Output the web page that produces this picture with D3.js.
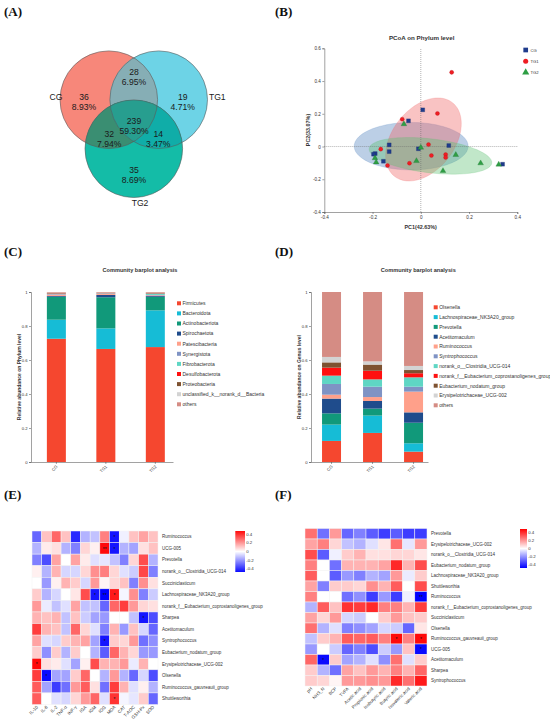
<!DOCTYPE html>
<html>
<head>
<meta charset="utf-8">
<script src="https://cdn.jsdelivr.net/npm/d3@7"></script>
<style>
html,body{margin:0;padding:0;background:#fff;}
svg{display:block;}
text{font-family:"Liberation Sans",Arial,Helvetica,sans-serif;fill:#222;}
.plab{font-family:"Liberation Serif","Times New Roman",serif;font-weight:bold;font-size:13px;fill:#111;}
</style>
</head>
<body>
<svg id="fig" width="550" height="724"></svg>
<script>
// ======================= DATA =======================
// (A) Venn diagram
const vennSets = ["CG", "TG1", "TG2"];
const vennRegions = ["CG", "CG∩TG1", "TG1", "CG∩TG1∩TG2", "CG∩TG2", "TG1∩TG2", "TG2"];
const vennCounts = [36, 28, 19, 239, 32, 14, 35];
const vennPercents = [8.93, 6.95, 4.71, 59.30, 7.94, 3.47, 8.69];

// (B) PCoA on phylum level
const pcoaGroups = ["CG", "TG1", "TG2"];
const pc1CG = [0.008, -0.051, -0.131, -0.131, -0.189, -0.196, -0.155, -0.010, 0.116, 0.339];
const pc2CG = [0.224, 0.157, 0.010, -0.031, -0.043, -0.047, -0.090, -0.014, 0.006, -0.108];
const pc1TG1 = [0.128, 0.069, -0.077, -0.166, 0.032, 0.044, 0.103, 0.103, -0.047, -0.138];
const pc2TG1 = [0.453, 0.202, 0.167, -0.016, 0.012, -0.055, -0.049, -0.067, -0.102, -0.116];
const pc1TG2 = [-0.070, 0.000, -0.190, -0.185, -0.018, 0.092, 0.145, 0.248, 0.323];
const pc2TG2 = [0.137, -0.006, -0.071, -0.096, -0.088, -0.149, -0.051, -0.102, -0.110];
const ellipseCenterPC1 = [-0.040, 0.011, 0.040];
const ellipseCenterPC2 = [0.002, 0.043, -0.057];
const ellipseAxis1 = [[0.236, 0.000], [0.120, 0.225], [0.254, -0.044]];
const ellipseAxis2 = [[0.000, 0.145], [0.101, -0.117], [-0.008, -0.103]];
const pcoaTicksX = [-0.4, -0.2, 0, 0.2, 0.4];
const pcoaTicksY = [-0.4, -0.2, 0, 0.2, 0.4, 0.6];
const pc1Label = "PC1(42.63%)";
const pc2Label = "PC2(33.07%)";

// (C) Community barplot, phylum level
const barGroups = ["CG", "TG1", "TG2"];
const phyla = ["Firmicutes", "Bacteroidota", "Actinobacteriota", "Spirochaetota", "Patescibacteria",
  "Synergistota", "Fibrobacterota", "Desulfobacterota", "Proteobacteria",
  "unclassified_k__norank_d__Bacteria", "others"];
const phylumCG  = [0.725, 0.112, 0.135, 0.005, 0.008, 0.003, 0.002, 0.002, 0.002, 0.002, 0.004];
const phylumTG1 = [0.665, 0.121, 0.183, 0.014, 0.006, 0.002, 0.002, 0.001, 0.001, 0.001, 0.004];
const phylumTG2 = [0.676, 0.216, 0.079, 0.005, 0.004, 0.003, 0.008, 0.002, 0.002, 0.001, 0.004];

// (D) Community barplot, genus level
const genera = ["Olsenella", "Lachnospiraceae_NK3A20_group", "Prevotella", "Acetitomaculum",
  "Ruminococcus", "Syntrophococcus", "norank_o__Clostridia_UCG-014",
  "norank_f__Eubacterium_coprostanoligenes_group", "Eubacterium_nodatum_group",
  "Erysipelotrichaceae_UCG-002", "others"];
const genusCG  = [0.124, 0.096, 0.066, 0.087, 0.023, 0.063, 0.049, 0.047, 0.031, 0.032, 0.382];
const genusTG1 = [0.171, 0.102, 0.041, 0.045, 0.023, 0.061, 0.043, 0.051, 0.036, 0.019, 0.408];
const genusTG2 = [0.061, 0.049, 0.121, 0.061, 0.122, 0.029, 0.055, 0.024, 0.019, 0.024, 0.435];
const abundanceTicks = [0, 0.2, 0.4, 0.6, 0.8, 1];

// (E) correlation heatmap: genera vs immune / antioxidant indices
const indicesE = ["IL-10", "IL-6", "IL-2", "TNF-α", "INF-γ", "IGA", "IGM", "IGG", "MDA", "CAT", "T-AOC", "GSH-Px", "SOD"];
const taxaE = ["Ruminococcus", "UCG-005", "Prevotella", "norank_o__Clostridia_UCG-014", "Succiniclasticum",
  "Lachnospiraceae_NK3A20_group", "norank_f__Eubacterium_coprostanoligenes_group", "Sharpea",
  "Acetitomaculum", "Syntrophococcus", "Eubacterium_nodatum_group", "Erysipelotrichaceae_UCG-002",
  "Olsenella", "Ruminococcus_gauvreauii_group", "Shuttleworthia"];
const corrE = [
  [-0.30, 0.12, 0.30, 0.12, -0.42, -0.15, -0.12, 0.25, -0.46, -0.03, 0.12, 0.18, 0.12],
  [-0.15, 0.04, 0.06, -0.15, -0.25, 0.08, 0.03, 0.48, -0.46, -0.15, -0.18, 0.06, 0.12],
  [-0.25, -0.35, 0.18, 0.00, 0.18, 0.04, -0.06, -0.05, -0.12, -0.25, 0.08, 0.35, -0.15],
  [0.03, -0.15, 0.15, -0.08, -0.08, 0.08, 0.22, 0.25, 0.08, -0.06, -0.10, 0.36, -0.25],
  [0.00, -0.20, 0.03, 0.15, 0.10, -0.08, 0.20, 0.02, 0.08, 0.12, -0.25, 0.22, 0.06],
  [0.10, -0.15, -0.08, 0.00, 0.05, 0.35, -0.46, -0.50, 0.45, -0.02, 0.22, -0.25, -0.10],
  [0.20, -0.04, -0.12, -0.06, 0.18, -0.12, -0.12, -0.30, 0.30, 0.38, 0.20, 0.08, 0.06],
  [0.15, 0.12, 0.15, -0.12, 0.12, -0.10, -0.18, -0.20, 0.00, 0.00, -0.12, -0.46, -0.35],
  [0.38, 0.15, 0.12, -0.12, 0.30, 0.08, -0.06, -0.25, 0.15, -0.20, 0.12, -0.08, -0.30],
  [0.18, -0.06, -0.08, 0.10, 0.15, 0.18, -0.18, -0.46, 0.10, 0.08, 0.20, -0.28, -0.22],
  [0.10, -0.22, 0.10, -0.15, 0.10, 0.00, -0.15, -0.32, 0.30, 0.15, 0.08, -0.20, -0.20],
  [0.48, 0.06, 0.04, -0.06, -0.18, 0.03, 0.35, 0.15, 0.15, 0.20, -0.04, 0.15, 0.00],
  [0.38, -0.48, -0.18, -0.18, 0.10, 0.30, 0.00, -0.15, 0.20, -0.15, -0.30, -0.08, -0.35],
  [0.32, -0.18, -0.38, -0.28, 0.20, 0.32, 0.06, -0.28, 0.38, 0.15, -0.06, 0.03, -0.15],
  [0.32, 0.00, -0.06, -0.08, 0.08, 0.20, 0.30, -0.06, 0.40, -0.02, -0.05, 0.10, -0.30]
];
const sigE = [
  ["Ruminococcus", "MDA", "*"], ["UCG-005", "IGG", "**"], ["UCG-005", "MDA", "*"],
  ["Lachnospiraceae_NK3A20_group", "IGM", "*"], ["Lachnospiraceae_NK3A20_group", "IGG", "**"],
  ["Lachnospiraceae_NK3A20_group", "MDA", "*"], ["Sharpea", "GSH-Px", "*"],
  ["Syntrophococcus", "IGG", "*"], ["Erysipelotrichaceae_UCG-002", "IL-10", "*"],
  ["Olsenella", "IL-6", "*"], ["Shuttleworthia", "MDA", "*"]
];

// (F) correlation heatmap: genera vs rumen fermentation parameters
const indicesF = ["pH", "NH3_N", "BCP", "TVFA", "Acetic acid", "Propionic acid", "Isobutyric acid",
  "Butyric acid", "Isovaleric acid", "Valeric acid"];
const taxaF = ["Prevotella", "Erysipelotrichaceae_UCG-002", "norank_o__Clostridia_UCG-014",
  "Eubacterium_nodatum_group", "Lachnospiraceae_NK3A20_group", "Shuttleworthia", "Ruminococcus",
  "norank_f__Eubacterium_coprostanoligenes_group", "Succiniclasticum", "Olsenella",
  "Ruminococcus_gauvreauii_group", "UCG-005", "Acetitomaculum", "Sharpea", "Syntrophococcus"];
const corrF = [
  [0.28, -0.28, 0.20, -0.30, -0.25, -0.32, -0.38, -0.32, -0.38, -0.38],
  [0.18, 0.25, 0.08, -0.12, -0.15, -0.06, 0.05, 0.28, -0.05, 0.20],
  [0.35, -0.32, -0.03, 0.10, 0.15, 0.06, 0.06, 0.08, 0.08, 0.05],
  [0.25, 0.00, -0.28, 0.15, 0.15, 0.15, 0.18, 0.42, 0.15, 0.35],
  [0.32, 0.00, -0.32, -0.20, -0.25, -0.15, -0.18, 0.20, -0.04, 0.10],
  [0.18, -0.25, 0.10, 0.10, 0.08, 0.22, 0.15, 0.32, 0.00, 0.35],
  [0.25, 0.00, 0.00, -0.28, -0.22, -0.38, -0.20, -0.38, -0.03, -0.50],
  [-0.15, 0.32, 0.12, 0.40, 0.38, 0.42, 0.25, 0.25, 0.15, 0.38],
  [0.18, 0.08, 0.20, -0.08, -0.10, 0.00, 0.10, 0.20, 0.12, 0.10],
  [0.28, -0.15, -0.06, -0.25, -0.22, -0.18, -0.08, -0.10, -0.30, 0.05],
  [-0.12, 0.10, 0.15, 0.32, 0.30, 0.32, 0.25, 0.48, 0.25, 0.48],
  [-0.20, 0.00, -0.10, -0.30, -0.25, -0.35, -0.10, -0.20, 0.12, -0.48],
  [0.30, -0.48, 0.10, -0.18, -0.15, -0.06, -0.22, 0.28, -0.06, 0.10],
  [0.10, -0.15, -0.28, 0.18, 0.12, 0.20, 0.15, 0.25, 0.15, 0.30],
  [0.10, 0.08, 0.02, 0.20, 0.20, 0.22, 0.20, 0.42, 0.28, 0.45]
];
const sigF = [
  ["Ruminococcus", "Valeric acid", "**"], ["Ruminococcus_gauvreauii_group", "Butyric acid", "*"],
  ["Ruminococcus_gauvreauii_group", "Valeric acid", "*"], ["UCG-005", "Valeric acid", "*"],
  ["Acetitomaculum", "NH3_N", "*"]
];
const corrTicks = [0.4, 0.2, 0, -0.2, -0.4];

// ======================= DRAWING =======================
const svg = d3.select("#fig");
const defs = svg.append("defs");

// panel letters
[["(A)", 4, 16], ["(B)", 275, 16], ["(C)", 4, 256], ["(D)", 275, 256], ["(E)", 4, 499], ["(F)", 275, 499]]
  .forEach(([t, x, y]) => svg.append("text").attr("class", "plab").attr("x", x).attr("y", y).text(t));

// ---------- (A) Venn ----------
(function () {
  const g = svg.append("g");
  const r = 48.8;
  const ctr = { CG: [108.8, 99.7], TG1: [158.7, 99.7], TG2: [133.8, 148.7] };
  const fill = {
    "CG": "#F7877A", "TG1": "#6DD3E6", "TG2": "#14BCA7", "CG∩TG1": "#86AEB5",
    "CG∩TG2": "#3A8E72", "TG1∩TG2": "#10ADA8", "CG∩TG1∩TG2": "#279E8F"
  };
  vennSets.forEach(s => defs.append("clipPath").attr("id", "vc-" + s)
    .append("circle").attr("cx", ctr[s][0]).attr("cy", ctr[s][1]).attr("r", r));
  const circ = (p, s, f) => p.append("circle").attr("cx", ctr[s][0]).attr("cy", ctr[s][1]).attr("r", r).attr("fill", f);
  circ(g, "CG", fill["CG"]);
  circ(g, "TG1", fill["TG1"]);
  circ(g.append("g").attr("clip-path", "url(#vc-CG)"), "TG1", fill["CG∩TG1"]);
  circ(g, "TG2", fill["TG2"]);
  circ(g.append("g").attr("clip-path", "url(#vc-CG)"), "TG2", fill["CG∩TG2"]);
  circ(g.append("g").attr("clip-path", "url(#vc-TG1)"), "TG2", fill["TG1∩TG2"]);
  circ(g.append("g").attr("clip-path", "url(#vc-CG)").append("g").attr("clip-path", "url(#vc-TG1)"), "TG2", fill["CG∩TG1∩TG2"]);
  vennSets.forEach(s => g.append("circle").attr("cx", ctr[s][0]).attr("cy", ctr[s][1]).attr("r", r)
    .attr("fill", "none").attr("stroke", "#5a5a5a").attr("stroke-width", 0.6));
  const lpos = {
    "CG": [84, 97.3], "CG∩TG1": [134, 71.7], "TG1": [182.7, 97.3], "CG∩TG1∩TG2": [134, 120.7],
    "CG∩TG2": [109.3, 134], "TG1∩TG2": [158.3, 134], "TG2": [134, 170]
  };
  vennRegions.forEach((k, i) => {
    const [x, y] = lpos[k];
    g.append("text").attr("x", x).attr("y", y + 3).attr("text-anchor", "middle")
      .attr("font-size", 8.6).style("fill", "#1a1a1a").text(vennCounts[i]);
    g.append("text").attr("x", x).attr("y", y + 12.8).attr("text-anchor", "middle")
      .attr("font-size", 8.6).style("fill", "#1a1a1a").text(vennPercents[i].toFixed(2) + "%");
  });
  const spos = { CG: [56, 97.3], TG1: [217.3, 97.3], TG2: [140, 202.7] };
  vennSets.forEach(s => g.append("text").attr("x", spos[s][0]).attr("y", spos[s][1] + 3)
    .attr("text-anchor", "middle").attr("font-size", 8.6).style("fill", "#1a1a1a").text(s));
})();

// ---------- (B) PCoA ----------
(function () {
  const g = svg.append("g");
  const x = d3.scaleLinear().domain([-0.4, 0.4]).range([324.3, 517.3]);
  const y = d3.scaleLinear().domain([-0.4, 0.6]).range([212, 48.3]);
  const col = { CG: "#1f3c8c", TG1: "#ee1d23", TG2: "#2e9e44" };
  const efill = ["#4f81bd", "#f06060", "#5cc070"];
  // ellipses
  const ts = d3.range(0, 361, 4).map(d => d * Math.PI / 180);
  pcoaGroups.forEach((gname, i) => {
    const pts = ts.map(t => [
      x(ellipseCenterPC1[i] + ellipseAxis1[i][0] * Math.cos(t) + ellipseAxis2[i][0] * Math.sin(t)),
      y(ellipseCenterPC2[i] + ellipseAxis1[i][1] * Math.cos(t) + ellipseAxis2[i][1] * Math.sin(t))
    ]);
    g.append("path").attr("d", d3.line().curve(d3.curveLinearClosed)(pts))
      .attr("fill", efill[i]).attr("fill-opacity", 0.38)
      .attr("stroke", efill[i]).attr("stroke-opacity", 0.5).attr("stroke-width", 0.4);
  });
  // zero reference lines
  g.append("line").attr("x1", x(-0.4)).attr("x2", x(0.4)).attr("y1", y(0)).attr("y2", y(0))
    .attr("stroke", "#666").attr("stroke-width", 0.5).attr("stroke-dasharray", "1,1");
  g.append("line").attr("x1", x(0)).attr("x2", x(0)).attr("y1", y(-0.4)).attr("y2", y(0.6))
    .attr("stroke", "#666").attr("stroke-width", 0.5).attr("stroke-dasharray", "1,1");
  // axes
  const ax = g.append("g").attr("transform", `translate(0,${y(-0.4)})`)
    .call(d3.axisBottom(x).tickValues(pcoaTicksX).tickSize(2).tickPadding(1.5).tickFormat(d => String(d)));
  const ay = g.append("g").attr("transform", `translate(${x(-0.4)},0)`)
    .call(d3.axisLeft(y).tickValues(pcoaTicksY).tickSize(2).tickPadding(1.5).tickFormat(d => String(d)));
  [ax, ay].forEach(a => {
    a.selectAll("path,line").attr("stroke", "#444").attr("stroke-width", 0.5);
    a.selectAll("text").attr("font-size", 4.6).style("fill", "#333");
  });
  // points
  const sets = [[pc1CG, pc2CG, d3.symbolSquare, 15], [pc1TG1, pc2TG1, d3.symbolCircle, 13], [pc1TG2, pc2TG2, d3.symbolTriangle, 14]];
  sets.forEach(([xs, ys, sym, sz], i) => {
    const c = col[pcoaGroups[i]];
    g.selectAll(null).data(xs.map((v, j) => [v, ys[j]])).enter().append("path")
      .attr("d", d3.symbol().type(sym).size(sz))
      .attr("transform", d => `translate(${x(d[0])},${y(d[1])})`)
      .attr("fill", c).attr("stroke", d3.color(c).darker(0.8)).attr("stroke-width", 0.3);
  });
  // legend
  const lg = [[d3.symbolSquare, 22], [d3.symbolCircle, 20], [d3.symbolTriangle, 22]];
  pcoaGroups.forEach((gname, i) => {
    const yy = 50 + i * 11.2;
    g.append("path").attr("d", d3.symbol().type(lg[i][0]).size(lg[i][1]))
      .attr("transform", `translate(525.7,${yy})`).attr("fill", col[gname]);
    g.append("text").attr("x", 530.5).attr("y", yy + 1.6).attr("font-size", 4.2).style("fill", "#333").text(gname);
  });
  // titles
  g.append("text").attr("x", 421.7).attr("y", 40.3).attr("text-anchor", "middle")
    .attr("font-size", 6.2).attr("font-weight", "bold").style("fill", "#333").text("PCoA on Phylum level");
  g.append("text").attr("x", 420.7).attr("y", 228.5).attr("text-anchor", "middle")
    .attr("font-size", 5.4).attr("font-weight", "bold").style("fill", "#333").text(pc1Label);
  g.append("text").attr("transform", "translate(310.2,130) rotate(-90)").attr("text-anchor", "middle")
    .attr("font-size", 5.4).attr("font-weight", "bold").style("fill", "#333").text(pc2Label);
})();

// ---------- (C) and (D) stacked bars ----------
const taxaColors = ["#F5472F", "#16BCD6", "#11997A", "#1F4C8C", "#FFA08A", "#7F93C4",
  "#5FD6C4", "#FF1010", "#7E5231", "#D3D3D3", "#D58C84"];

function stackedBar(cfg) {
  const g = svg.append("g");
  const rows = barGroups.map((grp, gi) => {
    const o = { group: grp };
    cfg.keys.forEach((k, ki) => o[k] = cfg.values[gi][ki]);
    return o;
  });
  const series = d3.stack().keys(cfg.keys)(rows);
  const x = d3.scaleBand().domain(barGroups).range([cfg.x0, cfg.x1])
    .paddingInner(cfg.pi).paddingOuter(cfg.po).align(cfg.align);
  const y = d3.scaleLinear().domain([0, 1]).range([462, 292]);
  const color = d3.scaleOrdinal().domain(cfg.keys).range(taxaColors);
  series.forEach(s => {
    g.selectAll(null).data(s).enter().append("rect")
      .attr("x", d => x(d.data.group)).attr("width", x.bandwidth())
      .attr("y", d => y(d[1])).attr("height", d => Math.max(0, y(d[0]) - y(d[1])))
      .attr("fill", color(s.key));
  });
  const ay = g.append("g").attr("transform", `translate(${cfg.x0},0)`)
    .call(d3.axisLeft(y).tickValues(abundanceTicks).tickSize(2).tickPadding(1.5).tickFormat(d => String(d)));
  const ax = g.append("g").attr("transform", `translate(0,462)`)
    .call(d3.axisBottom(x).tickSize(2).tickSizeOuter(0).tickFormat(""));
  [ax, ay].forEach(a => {
    a.selectAll("path,line").attr("stroke", "#444").attr("stroke-width", 0.5);
    a.selectAll("text").attr("font-size", 4.2).style("fill", "#333");
  });
  barGroups.forEach(grp => {
    g.append("text").attr("transform", `translate(${x(grp) + x.bandwidth() / 2 + 1.5},${467}) rotate(-45)`)
      .attr("text-anchor", "end").attr("font-size", 4.2).style("fill", "#333").text(grp);
  });
  g.append("text").attr("x", cfg.titleX).attr("y", 272).attr("text-anchor", "middle")
    .attr("font-size", 5.6).attr("font-weight", "bold").style("fill", "#333").text("Community barplot analysis");
  g.append("text").attr("transform", `translate(${cfg.yTitleX},377) rotate(-90)`).attr("text-anchor", "middle")
    .attr("font-size", 5.0).attr("font-weight", "bold").style("fill", "#333").text(cfg.yTitle);
  cfg.keys.forEach((k, i) => {
    const yy = cfg.legY + i * cfg.legStep;
    g.append("rect").attr("x", cfg.legX).attr("y", yy - 2).attr("width", 4).attr("height", 4).attr("fill", color(k));
    g.append("text").attr("x", cfg.legX + 5.5).attr("y", yy + 1.8).attr("font-size", 5.0).style("fill", "#333").text(k);
  });
}

stackedBar({
  keys: phyla, values: [phylumCG, phylumTG1, phylumTG2],
  x0: 31, x1: 173, pi: 0.616, po: 0.243, align: 0.66,
  titleX: 140, yTitleX: 21, yTitle: "Relative abundance on Phylum level",
  legX: 177, legY: 303.3, legStep: 10.1
});
stackedBar({
  keys: genera, values: [genusCG, genusTG1, genusTG2],
  x0: 311, x1: 428, pi: 0.537, po: 0.195, align: 0.69,
  titleX: 418.3, yTitleX: 301, yTitle: "Relative abundance on Genus level",
  legX: 433.7, legY: 307.3, legStep: 9.8
});

// ---------- (E) and (F) heatmaps ----------
function heatmap(cfg) {
  const g = svg.append("g");
  const x = d3.scaleBand().domain(cfg.cols).range([cfg.x0, cfg.x1]);
  const y = d3.scaleBand().domain(cfg.rows).range([cfg.y0, cfg.y1]);
  const color = d3.scaleLinear().domain([-0.5, 0, 0.5]).range(["#0000ff", "#ffffff", "#ff0000"]).clamp(true);
  const cells = [];
  cfg.rows.forEach((r, ri) => cfg.cols.forEach((c, ci) => cells.push({ r, c, v: cfg.values[ri][ci] })));
  g.selectAll(null).data(cells).enter().append("rect")
    .attr("x", d => x(d.c)).attr("y", d => y(d.r))
    .attr("width", x.bandwidth()).attr("height", y.bandwidth())
    .attr("fill", d => color(d.v)).attr("stroke", "#f2f2f2").attr("stroke-width", 0.5);
  g.selectAll(null).data(cfg.sig).enter().append("text")
    .attr("x", d => x(d[1]) + x.bandwidth() / 2).attr("y", d => y(d[0]) + y.bandwidth() / 2 + 2.2)
    .attr("text-anchor", "middle").attr("font-size", 5).style("fill", "#111").text(d => d[2]);
  cfg.rows.forEach(r => g.append("text").attr("x", cfg.x1 + 4).attr("y", y(r) + y.bandwidth() / 2 + 1.5)
    .attr("font-size", 4.5).style("fill", "#333").text(r));
  cfg.cols.forEach(c => g.append("text")
    .attr("transform", `translate(${x(c) + x.bandwidth() / 2 + 1.5},${cfg.y1 + 3}) rotate(-45)`)
    .attr("text-anchor", "end").attr("font-size", 4.5).style("fill", "#333").text(c));
  // colour bar
  const gid = "grad-" + cfg.id;
  const grad = defs.append("linearGradient").attr("id", gid).attr("x1", 0).attr("x2", 0).attr("y1", 1).attr("y2", 0);
  const cb = d3.scaleLinear().domain(cfg.cbDomain).range([cfg.cbY1, cfg.cbY0]);
  d3.range(0, 1.0001, 0.1).forEach(t => {
    const v = cfg.cbDomain[0] + t * (cfg.cbDomain[1] - cfg.cbDomain[0]);
    grad.append("stop").attr("offset", t).attr("stop-color", color(v));
  });
  g.append("rect").attr("x", cfg.cbX).attr("y", cfg.cbY0).attr("width", cfg.cbW).attr("height", cfg.cbY1 - cfg.cbY0)
    .attr("fill", `url(#${gid})`);
  corrTicks.forEach(t => g.append("text").attr("x", cfg.cbX + cfg.cbW + 1.2).attr("y", cb(t) + 1.5)
    .attr("font-size", 4.4).style("fill", "#333").text(String(t)));
}

heatmap({
  id: "E", cols: indicesE, rows: taxaE, values: corrE, sig: sigE,
  x0: 32, x1: 158, y0: 531, y1: 704.5,
  cbX: 235.3, cbW: 9.7, cbY0: 531, cbY1: 572, cbDomain: [-0.48, 0.48]
});
heatmap({
  id: "F", cols: indicesF, rows: taxaF, values: corrF, sig: sigF,
  x0: 305, x1: 427, y0: 528.5, y1: 686,
  cbX: 520, cbW: 7, cbY0: 529, cbY1: 568, cbDomain: [-0.5, 0.5]
});
</script>
</body>
</html>
